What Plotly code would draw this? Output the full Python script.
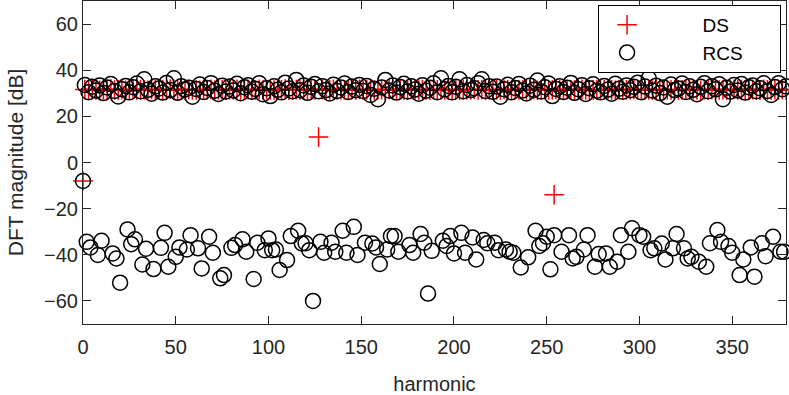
import plotly.graph_objects as go

# ---------------- data ----------------
# DS: odd harmonics 1..379 (plus isolated points)
ds_odd_harmonics = list(range(1, 380, 2))
ds_odd_values = [
    31.6, 31.4, 31.7, 31.5, 31.3, 31.6, 31.5, 31.8, 31.4, 31.5,
    31.6, 31.3, 31.5, 31.7, 31.4, 31.6, 31.5, 31.3, 31.7, 31.5,
    31.4, 31.6, 31.5, 31.8, 31.3, 31.5, 31.6, 31.4, 31.7, 31.5,
    31.5, 31.3, 31.6, 31.5, 31.7, 31.4, 31.6, 31.5, 31.3, 31.6,
    31.5, 31.7, 31.4, 31.5, 31.6, 31.3, 31.5, 31.7, 31.4, 31.6,
    31.5, 31.4, 31.6, 31.5, 31.8, 31.3, 31.5, 31.6, 31.4, 31.5,
    31.7, 31.5, 31.4, 11.0, 31.6, 31.3, 31.5, 31.7, 31.4, 31.6,
    31.5, 31.3, 31.6, 31.5, 31.7, 31.4, 31.5, 31.6, 31.3, 31.5,
    31.6, 31.4, 31.7, 31.5, 31.3, 31.6, 31.5, 31.4, 31.7, 31.5,
    31.4, 31.6, 31.5, 31.3, 31.7, 31.5, 31.6, 31.4, 31.5, 31.8,
    31.5, 31.3, 31.6, 31.5, 31.4, 31.7, 31.5, 31.6, 31.3, 31.5,
    31.6, 31.5, 31.4, 31.7, 31.5, 31.3, 31.6, 31.5, 31.4, 31.6,
    31.5, 31.7, 31.3, 31.5, 31.6, 31.4, 31.5, 31.7, 31.5, 31.3,
    31.6, 31.5, 31.4, 31.6, 31.7, 31.5, 31.3, 31.5, 31.6, 31.4,
    31.5, 31.7, 31.5, 31.3, 31.6, 31.4, 31.5, 31.6, 31.7, 31.5,
    31.4, 31.6, 31.5, 31.3, 31.7, 31.5, 31.4, 31.6, 31.5, 31.6,
    31.3, 31.5, 31.7, 31.4, 31.6, 31.5, 31.3, 31.6, 31.5, 31.7,
    31.5, 31.4, 31.6, 31.5, 31.3, 31.7, 31.5, 31.6, 31.4, 31.5,
    31.6, 31.5, 31.3, 31.7, 31.5, 31.4, 31.6, 31.5, 31.7, 31.4,
]
ds_extra_harmonics = [0, 254]
ds_extra_values = [-8.0, -14.0]

# RCS: odd harmonics (upper band)
rcs_odd_harmonics = list(range(1, 380, 2))
rcs_odd_values = [
    33.6, 30.5, 32.8, 31.2, 33.4, 30.1, 32.5, 34.0, 31.0, 28.6,
    31.8, 33.2, 30.4, 32.6, 34.2, 30.9, 36.1, 31.5, 29.8, 33.0,
    32.1, 30.3, 34.5, 31.4, 36.5, 30.2, 33.1, 31.6, 32.4, 28.5,
    31.9, 33.8, 30.6, 32.3, 34.4, 31.1, 29.7, 33.3, 30.8, 32.9,
    31.2, 34.1, 30.0, 32.6, 33.5, 30.7, 31.9, 34.3, 29.6, 32.2,
    28.8, 33.0, 31.5, 30.4, 34.6, 32.1, 30.9, 35.8, 31.3, 33.4,
    30.2, 32.8, 34.0, 30.9, 33.1, 31.4, 29.9, 33.7, 31.0, 32.5,
    34.2, 30.6, 32.9, 31.3, 33.6, 31.0, 33.2, 29.3, 32.0, 27.4,
    32.5, 35.8, 31.2, 33.4, 30.3, 32.7, 34.1, 30.8, 33.0, 31.6,
    29.8, 33.5, 31.1, 32.4, 34.3, 30.5, 36.5, 31.7, 33.2, 30.4,
    32.8, 36.1, 30.9, 33.6, 31.4, 32.2, 34.4, 36.1, 31.0, 33.1,
    30.7, 32.9, 28.5, 31.8, 33.7, 30.5, 32.3, 34.0, 31.2, 29.9,
    33.3, 31.5, 35.5, 30.8, 32.6, 34.2, 28.8, 31.9, 33.0, 30.6,
    32.4, 34.5, 30.2, 31.8, 33.5, 29.7, 32.2, 33.9, 31.1, 30.4,
    33.2, 31.6, 29.8, 34.1, 32.0, 30.7, 33.4, 31.3, 32.8, 34.6,
    30.5, 32.9, 36.5, 31.2, 33.3, 30.1, 32.5, 28.5, 33.8, 31.4,
    32.1, 34.2, 30.6, 33.0, 31.5, 29.6, 32.8, 34.4, 30.9, 33.1,
    31.7, 33.9, 27.4, 32.4, 30.8, 33.6, 31.2, 34.0, 30.3, 32.6,
    33.4, 30.9, 32.2, 34.3, 31.0, 29.3, 32.7, 34.4, 31.8, 33.0,
]

# RCS: even harmonics (lower band)
rcs_even_harmonics = [
    0, 2, 4, 8, 10, 16, 18, 20, 24, 26, 28, 32, 34, 38, 42, 44, 46, 50, 52,
    56, 58, 62, 64, 68, 70, 74, 76, 80, 82, 86, 88, 92, 94, 98, 100, 102,
    104, 106, 110, 112, 116, 118, 120, 122, 124, 128, 130, 134, 136, 140,
    142, 146, 148, 152, 156, 158, 160, 164, 166, 168, 170, 176, 178, 182,
    184, 186, 188, 194, 196, 198, 200, 204, 206, 210, 212, 216, 218, 222,
    224, 228, 230, 232, 236, 240, 244, 246, 248, 250, 252, 254, 258, 262,
    264, 266, 270, 272, 276, 278, 282, 284, 288, 290, 294, 296, 300, 302,
    306, 308, 312, 314, 318, 320, 324, 326, 328, 332, 336, 338, 342, 344,
    348, 350, 354, 356, 360, 362, 366, 368, 372, 376, 378,
]
rcs_even_values = [
    -8.0, -34.4, -36.8, -40.1, -33.9, -39.4, -41.6, -52.1, -29.0, -35.4,
    -33.3, -44.2, -37.4, -46.2, -37.0, -30.5, -45.2, -40.9, -36.8,
    -37.7, -31.5, -37.2, -45.9, -32.2, -39.1, -50.2, -48.8, -37.0, -35.8,
    -33.3, -38.7, -50.5, -34.8, -38.0, -32.9, -38.0,
    -37.7, -46.6, -42.3, -31.9, -29.6, -35.1, -35.0, -38.0, -60.0, -34.4,
    -39.1, -34.8, -38.7, -29.6,
    -39.1, -27.9, -40.1, -34.8, -35.1, -36.8, -44.0, -37.7, -31.9, -31.9,
    -38.7, -35.8, -39.1, -31.0,
    -34.8, -56.8, -38.3, -33.9, -36.2, -31.9, -39.4, -30.5, -39.1, -32.5,
    -42.0, -33.6, -35.0, -34.8,
    -38.0, -37.7, -38.7, -39.1, -45.5, -41.1, -29.6, -36.2, -35.0, -32.2,
    -46.3, -31.5, -38.7, -31.5,
    -41.6, -40.9, -37.7, -31.5, -45.2, -39.7, -39.4, -45.2, -43.0, -31.5,
    -38.7, -28.5, -31.5, -32.2,
    -38.0, -37.2, -35.1, -42.0, -37.2, -31.0, -37.2, -41.6, -40.9, -43.0,
    -45.2, -35.0, -29.3, -34.4,
    -36.2, -39.1, -48.8, -42.0, -36.8, -49.5, -35.0, -40.6, -32.2, -38.7,
    -38.7,
]

x_ticks = [0, 50, 100, 150, 200, 250, 300, 350]
y_ticks = [-60, -40, -20, 0, 20, 40, 60]

# ---------------- figure ----------------
ds_x = ds_extra_harmonics[:1] + ds_odd_harmonics + ds_extra_harmonics[1:]
ds_y = ds_extra_values[:1] + ds_odd_values + ds_extra_values[1:]
rcs_x = rcs_odd_harmonics + rcs_even_harmonics
rcs_y = rcs_odd_values + rcs_even_values

FONT = "Liberation Sans, Arial, Helvetica, sans-serif"
AXC = "#262626"
pad_l = "\u00a0" * 9
pad_r = "\u00a0" * 6

fig = go.Figure()
fig.add_trace(go.Scatter(
    x=ds_x, y=ds_y, mode="markers", name=pad_l + "DS" + pad_r,
    marker=dict(symbol="cross-thin", size=14, color="#ff0000",
                line=dict(color="#ff0000", width=1.5)),
    cliponaxis=False,
))
fig.add_trace(go.Scatter(
    x=rcs_x, y=rcs_y, mode="markers", name=pad_l + "RCS" + pad_r,
    marker=dict(symbol="circle-open", size=15, color="#000000",
                line=dict(color="#000000", width=1.5)),
    cliponaxis=False,
))

axis_common = dict(
    showgrid=False, zeroline=False, showline=True, linecolor=AXC, linewidth=1,
    mirror="allticks", ticks="inside", ticklen=8, tickcolor=AXC, tickwidth=1,
    tickfont=dict(family=FONT, size=20, color=AXC), automargin=False,
)

fig.update_layout(
    width=789, height=395,
    margin=dict(l=83, r=3, t=1, b=71),
    paper_bgcolor="white", plot_bgcolor="white",
    font=dict(family=FONT, size=20, color=AXC),
    xaxis=dict(range=[0, 379], tickvals=x_ticks, ticklabelstandoff=5,
               title=dict(text="harmonic", font=dict(family=FONT, size=20, color=AXC), standoff=20),
               **axis_common),
    yaxis=dict(range=[-70, 70], tickvals=y_ticks,
               title=dict(text="DFT magnitude [dB]", font=dict(family=FONT, size=21, color=AXC), standoff=14),
               **axis_common),
    legend=dict(x=0.993, y=0.988, xanchor="right", yanchor="top",
                bgcolor="white", bordercolor="#000000", borderwidth=1,
                font=dict(family=FONT, size=19, color="#000000"),
                itemwidth=46, tracegroupgap=0),
    showlegend=True,
)

fig.write_html("out.html", config={"displayModeBar": False},
               post_script="document.body.style.margin='0';document.body.style.padding='0';")
